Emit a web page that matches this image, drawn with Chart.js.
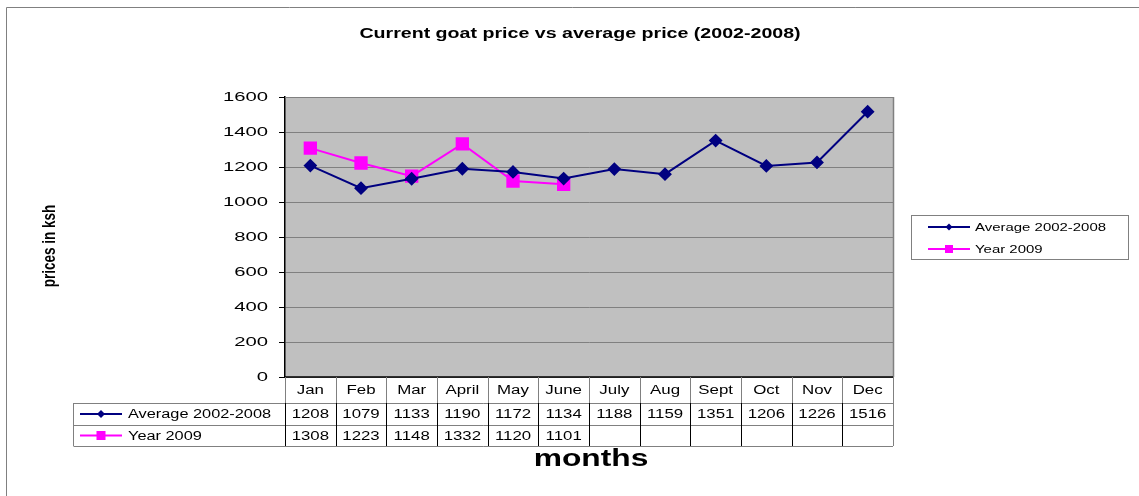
<!DOCTYPE html>
<html>
<head>
<meta charset="utf-8">
<script src="https://cdn.jsdelivr.net/npm/chart.js@4"></script>
<style>
html,body{margin:0;padding:0;background:#fff;}
#wrap{width:1139px;height:496px;}
</style>
</head>
<body>
<div id="wrap"><canvas id="c" width="1139" height="496"></canvas></div>
<script>
// ---- data ----
const chartTitle = 'Current goat price vs average price (2002-2008)';
const xTitle = 'months';
const yTitle = 'prices in ksh';
const categories = ['Jan','Feb','Mar','April','May','June','July','Aug','Sept','Oct','Nov','Dec'];
const seriesNames = ['Average 2002-2008','Year 2009'];
const avgValues = [1208,1079,1133,1190,1172,1134,1188,1159,1351,1206,1226,1516];
const year2009Values = [1308,1223,1148,1332,1120,1101,null,null,null,null,null,null];
const yTickValues = [0,200,400,600,800,1000,1200,1400,1600];

const NAVY = '#000080', MAGENTA = '#FF00FF', GRID = '#808080';
const FONT = '"Liberation Sans", Arial, sans-serif';

function txt(ctx, s, x, y, size, bold, align, sx) {
  ctx.save();
  ctx.font = (bold ? 'bold ' : '') + size + 'px ' + FONT;
  ctx.textBaseline = 'middle';
  ctx.textAlign = align;
  ctx.fillStyle = '#000';
  ctx.translate(x, y);
  ctx.scale(sx, 1);
  ctx.fillText(s, 0, 0);
  ctx.restore();
}
function line(ctx, x1, y1, x2, y2, color, w) {
  ctx.save();
  ctx.strokeStyle = color; ctx.lineWidth = w || 1;
  ctx.beginPath(); ctx.moveTo(x1, y1); ctx.lineTo(x2, y2); ctx.stroke();
  ctx.restore();
}
function marker(ctx, kind, x, y, s) {
  ctx.save();
  if (kind === 0) {
    ctx.fillStyle = NAVY;
    ctx.beginPath(); ctx.moveTo(x, y - s); ctx.lineTo(x + s, y); ctx.lineTo(x, y + s); ctx.lineTo(x - s, y); ctx.closePath(); ctx.fill();
  } else {
    ctx.fillStyle = MAGENTA;
    ctx.fillRect(x - s, y - s, 2 * s, 2 * s);
  }
  ctx.restore();
}
function legendSample(ctx, i, x1, x2, y, s) {
  line(ctx, x1, y, x2, y, i === 0 ? NAVY : MAGENTA, 2);
  marker(ctx, i, (x1 + x2) / 2, y, s);
}

const decor = {
  id: 'decor',
  beforeDraw(chart) {
    const ctx = chart.ctx, a = chart.chartArea;
    ctx.save();
    ctx.fillStyle = '#fff'; ctx.fillRect(0, 0, chart.width, chart.height);
    ctx.fillStyle = '#C0C0C0'; ctx.fillRect(a.left, a.top, a.right - a.left, a.bottom - a.top);
    ctx.restore();
    // page border
    line(ctx, 6.5, 7.5, 6.5, chart.height, GRID, 1);
    line(ctx, 6.5, 7.5, chart.width, 7.5, GRID, 1);
  },
  afterDraw(chart) {
    const ctx = chart.ctx, a = chart.chartArea;
    const xs = chart.scales.x, ys = chart.scales.y;
    // plot border (top/right gray, bottom black)
    line(ctx, a.left, a.top + 0.5, a.right, a.top + 0.5, GRID, 1);
    line(ctx, a.right + 0.5, a.top, a.right + 0.5, a.bottom, GRID, 1.5);
    line(ctx, a.left - 1, a.bottom, a.right, a.bottom, '#000', 1.5);

    // y tick labels
    ys.ticks.forEach(t => {
      txt(ctx, String(t.value), a.left - 17, ys.getPixelForValue(t.value), 13.5, false, 'right', 1.5);
    });

    // data table
    const half = (xs.getPixelForValue(1) - xs.getPixelForValue(0)) / 2;
    const r0 = a.bottom, r1 = a.bottom + 26, r2 = a.bottom + 48, r3 = a.bottom + 69;
    const tLeft = 73.5;
    [r1, r2, r3].forEach(y => line(ctx, tLeft, Math.round(y) + 0.5, a.right, Math.round(y) + 0.5, GRID, 1));
    line(ctx, tLeft, r1, tLeft, r3, GRID, 1);
    for (let i = 0; i <= categories.length; i++) {
      const bx = Math.round(xs.getPixelForValue(0) - half + 2 * half * i) + 0.5;
      line(ctx, bx, r0, bx, r1, GRID, 1);
      line(ctx, bx, r1, bx, r3, i === categories.length ? GRID : '#000', 1);
    }
    categories.forEach((c, i) => {
      const cx = xs.getPixelForValue(i);
      txt(ctx, c, cx, (r0 + r1) / 2 + 1, 12.5, false, 'center', 1.35);
      if (avgValues[i] != null) txt(ctx, String(avgValues[i]), cx, (r1 + r2) / 2 + 1, 12, false, 'center', 1.4);
      if (year2009Values[i] != null) txt(ctx, String(year2009Values[i]), cx, (r2 + r3) / 2 + 1, 12, false, 'center', 1.4);
    });
    // table legend keys
    legendSample(ctx, 0, 80, 122, (r1 + r2) / 2, 4);
    txt(ctx, seriesNames[0], 128, (r1 + r2) / 2 + 1, 12, false, 'left', 1.36);
    legendSample(ctx, 1, 80, 122, (r2 + r3) / 2, 4.5);
    txt(ctx, seriesNames[1], 128, (r2 + r3) / 2 + 1, 12, false, 'left', 1.36);

    // side legend
    ctx.save(); ctx.strokeStyle = GRID; ctx.lineWidth = 1;
    ctx.strokeRect(911.5, 215.5, 217, 44); ctx.restore();
    legendSample(ctx, 0, 928, 970, 227, 3.5);
    txt(ctx, seriesNames[0], 975, 228, 11.5, false, 'left', 1.3);
    legendSample(ctx, 1, 928, 970, 249, 4);
    txt(ctx, seriesNames[1], 975, 250, 11.5, false, 'left', 1.3);

    // titles
    txt(ctx, chartTitle, 580, 34, 14, true, 'center', 1.4);
    txt(ctx, xTitle, 591, 460, 23, true, 'center', 1.38);
    ctx.save();
    ctx.translate(50, 246); ctx.rotate(-Math.PI / 2); ctx.scale(1, 1.35);
    ctx.font = 'bold 13.5px ' + FONT; ctx.textAlign = 'center'; ctx.textBaseline = 'middle'; ctx.fillStyle = '#000';
    ctx.fillText(yTitle, 0, 0);
    ctx.restore();
  }
};

new Chart(document.getElementById('c'), {
  type: 'line',
  data: {
    labels: categories,
    datasets: [
      { label: seriesNames[0], data: avgValues, borderColor: NAVY, backgroundColor: NAVY, borderWidth: 2,
        pointStyle: 'rectRot', pointRadius: 5.5, pointHoverRadius: 5.5, tension: 0 },
      { label: seriesNames[1], data: year2009Values, borderColor: MAGENTA, backgroundColor: MAGENTA, borderWidth: 2,
        pointStyle: 'rect', pointRadius: 8, pointHoverRadius: 8, tension: 0, spanGaps: false }
    ]
  },
  options: {
    responsive: false,
    animation: false,
    events: [],
    layout: { padding: { left: 279, right: 246, top: 97, bottom: 119 } },
    plugins: { legend: { display: false }, title: { display: false }, tooltip: { enabled: false } },
    scales: {
      x: { display: false, offset: true },
      y: {
        min: yTickValues[0], max: yTickValues[yTickValues.length - 1],
        afterBuildTicks(scale) { scale.ticks = yTickValues.map(v => ({ value: v })); },
        ticks: { display: false },
        grid: { color: GRID, lineWidth: 1, tickLength: 6, tickColor: '#000', drawTicks: true },
        border: { color: '#000', width: 1.5 },
        afterFit(scale) { scale.width = 6; }
      }
    }
  },
  plugins: [decor]
});
</script>
</body>
</html>
